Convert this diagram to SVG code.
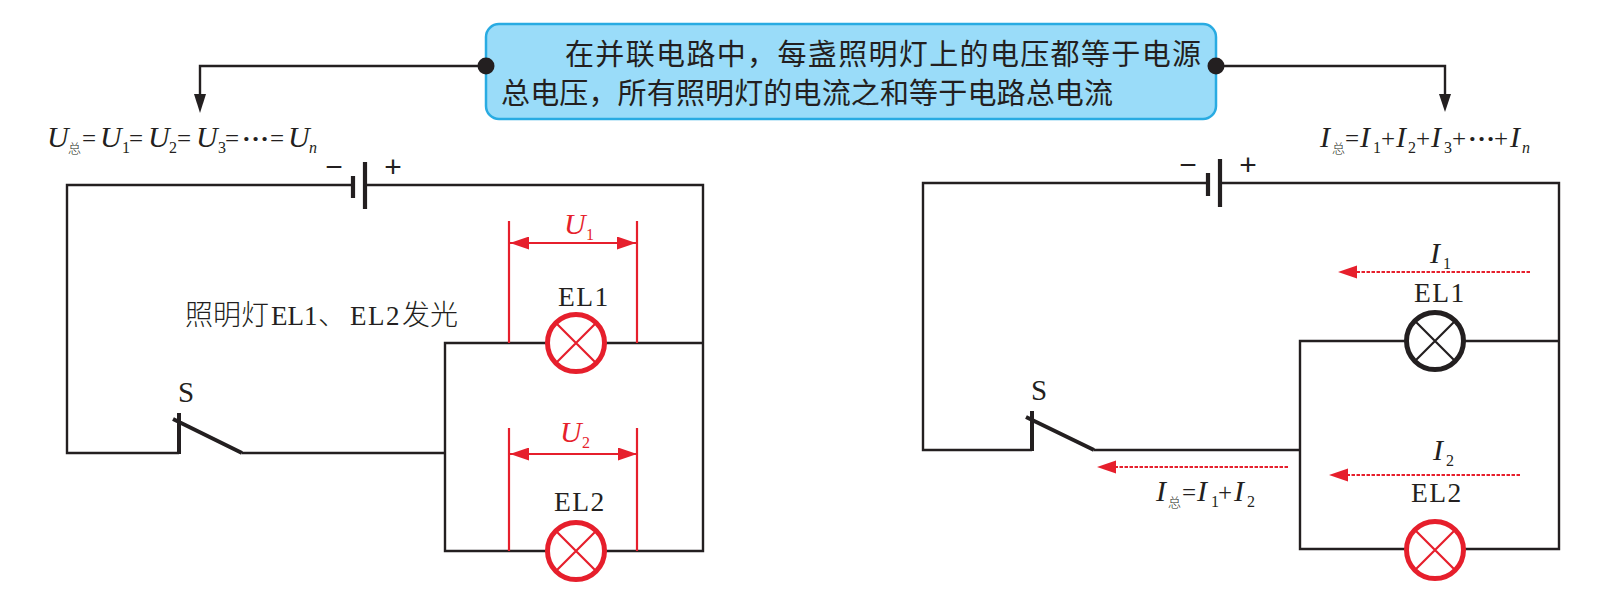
<svg xmlns="http://www.w3.org/2000/svg" width="1612" height="607" viewBox="0 0 1612 607">
<style>
text{fill:#231f20;font-family:"Liberation Serif","Noto Sans CJK SC",serif}
.cjk{font-family:"Noto Sans CJK SC",sans-serif;font-weight:400}
.thin{font-family:"Noto Sans CJK SC",sans-serif;font-weight:300;font-size:28px}
.box{font-size:29px}
.name{font-size:27.500px;letter-spacing:1.500px}
.m{font-size:30px;font-style:italic;font-weight:400}
.b{font-size:16px;font-style:normal}
.n{font-size:16px;font-style:italic}
.z{font-size:13px;font-style:normal;font-family:"Noto Sans CJK SC",sans-serif;font-weight:300}
.op{font-size:25px;font-style:normal}
.ds{font-size:26px;font-style:normal;font-weight:700;letter-spacing:0.500px}
.s{font-size:30px;font-family:"Liberation Sans",sans-serif}
.red,.red tspan{fill:#e61f2c}
.w{fill:none;stroke:#231f20;stroke-width:2.400}
.lead{fill:none;stroke:#231f20;stroke-width:2.400}
.plate{stroke:#231f20;stroke-width:4.200;fill:none}
.sw{stroke:#231f20;stroke-width:4;fill:none}
.rl{stroke:#e61f2c;stroke-width:2.200;fill:none}
.dim{stroke:#e61f2c;stroke-width:2;fill:none;marker-start:url(#rs);marker-end:url(#re)}
.cur{stroke:#e61f2c;stroke-width:2;stroke-dasharray:3.500 1.500;fill:none}
.dot{fill:#231f20}
.lampr{fill:#fff;stroke:#e61f2c;stroke-width:5}
.lampk{fill:#fff;stroke:#231f20;stroke-width:5}
.xr{stroke:#e61f2c;stroke-width:2.200}
.xk{stroke:#231f20;stroke-width:2.200}
</style>
<defs>
<marker id="rs" markerUnits="userSpaceOnUse" markerWidth="20" markerHeight="14" refX="0" refY="6.500" orient="auto" viewBox="0 0 20 14"><path d="M0 6.500L19 0V13Z" fill="#e61f2c"/></marker>
<marker id="re" markerUnits="userSpaceOnUse" markerWidth="20" markerHeight="14" refX="19" refY="6.500" orient="auto" viewBox="0 0 20 14"><path d="M19 6.500L0 0V13Z" fill="#e61f2c"/></marker>
</defs>

<g id="connectors">
<path class="lead" d="M486 66H200V94"/>
<path class="lead" d="M1216 66H1445V94"/>
<path d="M194 94H206L200 113Z" class="dot"/>
<path d="M1439 94H1451L1445 112Z" class="dot"/>
<path class="w" d="M353 185H67V453H179"/>
<path class="w" d="M365 185H703V551H445V343H703"/>
<path class="w" d="M242 453H445"/>
<path class="w" d="M1208 183H923V450H1032"/>
<path class="w" d="M1220 183H1559V549H1300V341H1559"/>
<path class="w" d="M1094 450H1300"/>
<path class="rl" d="M509 221V343M637 221V343M509 428V551M637 428V551"/>
<path class="dim" d="M510 243H636"/>
<path class="dim" d="M510 454H637"/>
<path class="cur" d="M1530 272H1352"/><path d="M1338 272L1357 265.500V278.500Z" fill="#e61f2c"/>
<path class="cur" d="M1520 475H1343"/><path d="M1329 475L1348 468.500V481.500Z" fill="#e61f2c"/>
<path class="cur" d="M1288 467H1111"/><path d="M1097 467L1116 460.500V473.500Z" fill="#e61f2c"/>
</g>

<g id="note">
<rect x="486" y="24" width="730" height="95" rx="13" fill="#9adcf9" stroke="#29abe2" stroke-width="2.500"/>
<text class="cjk box" x="565" y="65" textLength="636" lengthAdjust="spacing">在并联电路中，每盏照明灯上的电压都等于电源</text>
<text class="cjk box" x="501" y="104" textLength="612" lengthAdjust="spacing">总电压，所有照明灯的电流之和等于电路总电流</text>
<circle class="dot" cx="486" cy="66" r="8.500"/>
<circle class="dot" cx="1216" cy="66" r="8.500"/>
</g>

<g id="formula-u">
<text class="m" y="147"><tspan x="47">U</tspan><tspan class="z" x="68" y="153">总</tspan><tspan class="op" x="82" y="147">=</tspan><tspan x="100">U</tspan><tspan class="b" x="122" y="153">1</tspan><tspan class="op" x="129" y="147">=</tspan><tspan x="148">U</tspan><tspan class="b" x="169" y="153">2</tspan><tspan class="op" x="177" y="147">=</tspan><tspan x="196">U</tspan><tspan class="b" x="218" y="153">3</tspan><tspan class="op" x="225" y="147">=</tspan><tspan class="ds" x="242" y="147">···</tspan><tspan class="op" x="270" y="147">=</tspan><tspan x="288">U</tspan><tspan class="n" x="309" y="153">n</tspan></text>
</g>
<g id="formula-i">
<text class="m" y="147"><tspan x="1320">I</tspan><tspan class="z" x="1332" y="153">总</tspan><tspan class="op" x="1345" y="147">=</tspan><tspan x="1360">I</tspan><tspan class="b" x="1373" y="153">1</tspan><tspan class="op" x="1381" y="147">+</tspan><tspan x="1396">I</tspan><tspan class="b" x="1408" y="153">2</tspan><tspan class="op" x="1416" y="147">+</tspan><tspan x="1431">I</tspan><tspan class="b" x="1444" y="153">3</tspan><tspan class="op" x="1452" y="147">+</tspan><tspan class="ds" x="1468" y="147">···</tspan><tspan class="op" x="1494" y="147">+</tspan><tspan x="1510">I</tspan><tspan class="n" x="1522" y="153">n</tspan></text>
</g>

<g id="battery-left">
<path class="plate" d="M353 176V198M365 162V209"/>
<text class="s" x="334" y="177" text-anchor="middle">−</text>
<text class="s" x="393" y="177" text-anchor="middle">+</text>
</g>
<g id="battery-right">
<path class="plate" d="M1208 173V196M1220 159V207"/>
<text class="s" x="1188" y="175" text-anchor="middle">−</text>
<text class="s" x="1248" y="175" text-anchor="middle">+</text>
</g>

<g id="switch-left">
<path class="sw" d="M179 413V454M173 419L242 453"/>
<text x="178" y="402" font-size="29">S</text>
</g>
<g id="switch-right">
<path class="sw" d="M1032 411V451M1026 417L1094 450"/>
<text x="1031" y="400" font-size="29">S</text>
</g>

<g id="lamp-el1-left">
<circle class="lampr" cx="576" cy="343" r="28.500"/>
<path class="xr" d="M556 323L596 363M596 323L556 363"/>
<text class="name" x="558" y="306">EL1</text>
</g>
<g id="lamp-el2-left">
<circle class="lampr" cx="576" cy="551" r="28.500"/>
<path class="xr" d="M556 531L596 571M596 531L556 571"/>
<text class="name" x="554" y="511">EL2</text>
</g>
<g id="lamp-el1-right">
<circle class="lampk" cx="1435" cy="341" r="28.500"/>
<path class="xk" d="M1415 321L1455 361M1455 321L1415 361"/>
<text class="name" x="1414" y="302">EL1</text>
</g>
<g id="lamp-el2-right">
<circle class="lampr" cx="1435" cy="550" r="28.500"/>
<path class="xr" d="M1415 530L1455 570M1455 530L1415 570"/>
<text class="name" x="1411" y="502">EL2</text>
</g>

<g id="labels">
<text x="185" y="325" font-size="27"><tspan class="thin">照明灯</tspan><tspan x="271">EL1</tspan><tspan class="thin" x="318">、</tspan><tspan x="350" letter-spacing="1.500">EL2</tspan><tspan class="thin" x="402">发光</tspan></text>
<text class="m red" y="234"><tspan x="564">U</tspan><tspan class="b" x="586" y="240">1</tspan></text>
<text class="m red" y="442"><tspan x="560">U</tspan><tspan class="b" x="582" y="448">2</tspan></text>
<text class="m" y="263"><tspan x="1430">I</tspan><tspan class="b" x="1443" y="269">1</tspan></text>
<text class="m" y="460"><tspan x="1433">I</tspan><tspan class="b" x="1446" y="466">2</tspan></text>
<text class="m" y="501"><tspan x="1156">I</tspan><tspan class="z" x="1168" y="507">总</tspan><tspan class="op" x="1182" y="501">=</tspan><tspan x="1197">I</tspan><tspan class="b" x="1211" y="507">1</tspan><tspan class="op" x="1218" y="501">+</tspan><tspan x="1234">I</tspan><tspan class="b" x="1247" y="507">2</tspan></text>
</g>
</svg>
